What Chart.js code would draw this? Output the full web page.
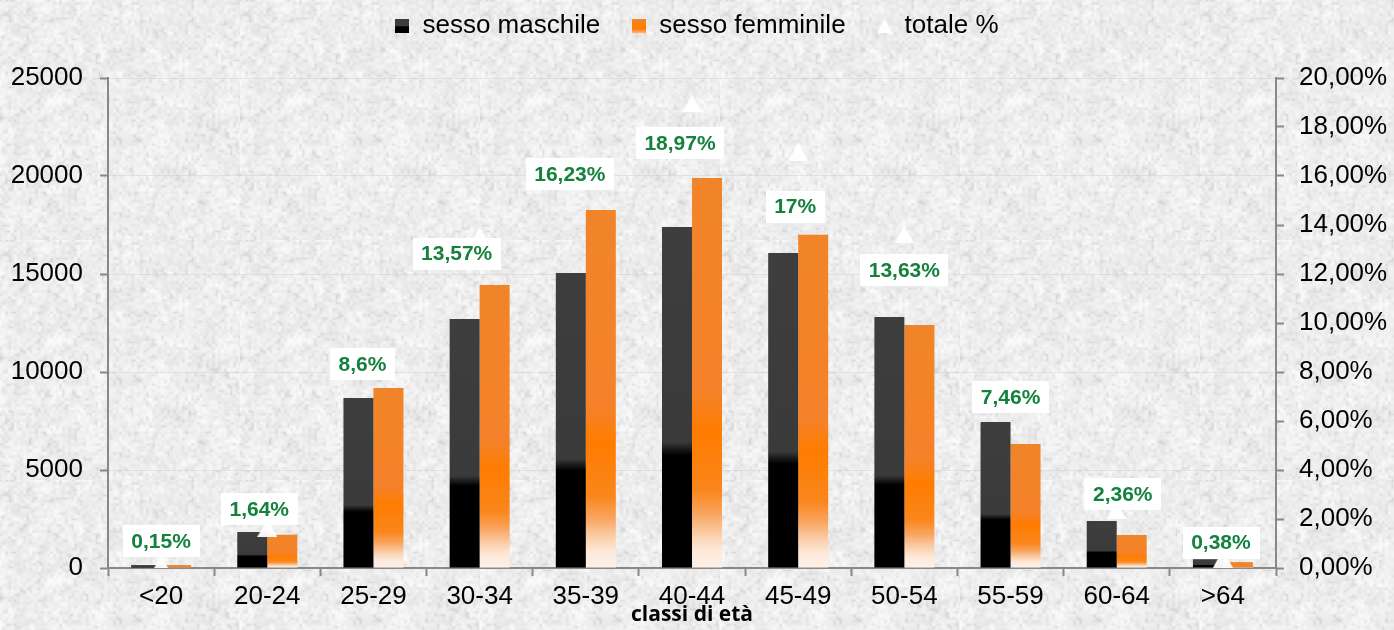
<!DOCTYPE html>
<html lang="it">
<head>
  <meta charset="utf-8" />
  <title>Classi di età</title>
  <script src="https://cdn.jsdelivr.net/npm/chart.js@4.4.0/dist/chart.umd.min.js"></script>
  <style>
    html, body { margin: 0; padding: 0; }
    body { width: 1394px; height: 630px; overflow: hidden; background: #e9e9e9; }
    #wrap { position: relative; width: 1394px; height: 630px; }
  </style>
</head>
<body>
<div id="wrap">
  <canvas id="myChart" width="1394" height="630"></canvas>
</div>

<script>
// --- data ---
const categorie = ['<20', '20-24', '25-29', '30-34', '35-39', '40-44', '45-49', '50-54', '55-59', '60-64', '>64'];
const maschile  = [150, 1840, 8670, 12700, 15050, 17400, 16070, 12800, 7450, 2400, 450];
const femminile = [150, 1700, 9180, 14440, 18260, 19900, 17000, 12400, 6330, 1680, 300];
const totale    = [0.15, 1.64, 8.6, 13.57, 16.23, 18.97, 17, 13.63, 7.46, 2.36, 0.38];

// label boxes were placed by hand in the original, nudge them the same way (px)
const labelShiftX = [0, -8, -11, -23, -16, -12, -3, 0, 0, 6, -2];
const labelShiftY = [-23, -19, 7, 18, 4, 40, 55, 36, 12, -16, -16];

const FONT = '"Liberation Sans", Arial, sans-serif';
const AXIS_GREY = '#888888';

// granite-like page background, deterministic hash noise
function hash(x, y) {
  let h = (x * 374761393 + y * 668265263) | 0;
  h = Math.imul(h ^ (h >>> 13), 1274126177);
  h = h ^ (h >>> 16);
  return (h >>> 0) / 4294967295;
}
function smooth(x, y, cell) {
  const gx = Math.floor(x / cell), gy = Math.floor(y / cell);
  const fx = x / cell - gx, fy = y / cell - gy;
  const a = hash(gx, gy), b = hash(gx + 1, gy), c = hash(gx, gy + 1), d = hash(gx + 1, gy + 1);
  return (a * (1 - fx) + b * fx) * (1 - fy) + (c * (1 - fx) + d * fx) * fy;
}
function makeTexture() {
  const size = 240;
  const cv = document.createElement('canvas');
  cv.width = size; cv.height = size;
  const c = cv.getContext('2d');
  const img = c.createImageData(size, size);
  for (let y = 0; y < size; y++) {
    for (let x = 0; x < size; x++) {
      const n1 = smooth(x, y, 3);
      const n2 = smooth(x + 500, y + 500, 10);
      let v = 237 + (n1 - 0.5) * 20 + (n2 - 0.5) * 14;
      if (n1 < 0.15) v -= 10;
      v = Math.max(200, Math.min(250, v));
      const i = (y * size + x) * 4;
      img.data[i] = v; img.data[i + 1] = v; img.data[i + 2] = v; img.data[i + 3] = 255;
    }
  }
  c.putImageData(img, 0, 0);
  document.body.style.backgroundImage = 'url(' + cv.toDataURL() + ')';
}

// gradients along each bar, from its top to the zero line
const maleStops = [[0, '#3e3e3e'], [0.63, '#3a3a3a'], [0.65, '#1c1c1c'], [0.67, '#000000'], [1, '#000000']];
const femaleStops = [[0, '#f18428'], [0.55, '#f5822a'], [0.65, '#ff7c00'], [0.8, '#fa861c'],
                     [0.86, '#f8a45e'], [0.92, '#fbd3b2'], [0.955, '#fde9da'], [1, '#fdf1e8']];

function barGradient(context, stops) {
  const chart = context.chart;
  if (!chart.chartArea || context.raw === undefined) return stops[0][1];
  const y = chart.scales.y;
  const top = y.getPixelForValue(context.raw);
  const base = y.getPixelForValue(0);
  if (base - top < 1) return stops[0][1];
  const g = chart.ctx.createLinearGradient(0, top, 0, base);
  stops.forEach(([o, col]) => g.addColorStop(o, col));
  return g;
}

// point style images
function triangleImage(w, h) {
  const cv = document.createElement('canvas');
  cv.width = w; cv.height = h;
  const c = cv.getContext('2d');
  c.fillStyle = 'rgba(255,255,255,0.95)';
  c.beginPath();
  c.moveTo(w / 2, 0);
  c.lineTo(w, h);
  c.lineTo(0, h);
  c.closePath();
  c.fill();
  return cv;
}
function swatch(stops) {
  const cv = document.createElement('canvas');
  cv.width = 14; cv.height = 14;
  const c = cv.getContext('2d');
  const g = c.createLinearGradient(0, 0, 0, 14);
  stops.forEach(([o, col]) => g.addColorStop(o, col));
  c.fillStyle = g;
  c.fillRect(0, 0, 14, 14);
  return cv;
}

const fmtPct = v => String(v).replace('.', ',') + '%';

// green value labels in white boxes
const labelBoxes = {
  id: 'labelBoxes',
  afterDatasetsDraw(chart) {
    const meta = chart.getDatasetMeta(2);
    const c = chart.ctx;
    c.save();
    c.font = 'bold 21px ' + FONT;
    c.textAlign = 'center';
    c.textBaseline = 'middle';
    meta.data.forEach((pt, i) => {
      const text = fmtPct(totale[i]);
      const w = c.measureText(text).width + 17;
      const h = 32;
      const cx = pt.x + labelShiftX[i];
      const cy = pt.y + labelShiftY[i];
      c.fillStyle = '#ffffff';
      c.fillRect(Math.round(cx - w / 2), Math.round(cy - h / 2), Math.round(w), h);
      c.fillStyle = '#14823d';
      c.fillText(text, cx, cy + 1);
    });
    c.restore();
  }
};

window.addEventListener('load', () => {
  makeTexture();

  const triPoint = triangleImage(20, 18);
  const legendItems = [
    { text: 'sesso maschile', pointStyle: swatch([[0, '#3d3d3d'], [0.5, '#3d3d3d'], [0.55, '#000'], [1, '#000']]) },
    { text: 'sesso femminile', pointStyle: swatch([[0, '#f28529'], [0.7, '#ff7c00'], [1, '#fbb77d']]) },
    { text: 'totale %', pointStyle: triangleImage(16, 14) }
  ];

  const ctx = document.getElementById('myChart').getContext('2d');
  new Chart(ctx, {
    data: {
      labels: categorie,
      datasets: [
        {
          type: 'bar',
          label: 'sesso maschile',
          data: maschile,
          yAxisID: 'y',
          order: 1,
          backgroundColor: c => barGradient(c, maleStops),
          borderWidth: 0,
          categoryPercentage: 0.565,
          barPercentage: 1
        },
        {
          type: 'bar',
          label: 'sesso femminile',
          data: femminile,
          yAxisID: 'y',
          order: 1,
          backgroundColor: c => barGradient(c, femaleStops),
          borderWidth: 0,
          categoryPercentage: 0.565,
          barPercentage: 1
        },
        {
          type: 'line',
          label: 'totale %',
          data: totale,
          yAxisID: 'y1',
          order: 0,
          showLine: false,
          pointStyle: triPoint,
          pointRadius: 10,
          borderWidth: 0
        }
      ]
    },
    options: {
      responsive: false,
      devicePixelRatio: 1,
      animation: false,
      events: [],
      layout: { padding: { top: -19, left: 0, right: 0, bottom: 0 } },
      plugins: {
        tooltip: { enabled: false },
        legend: {
          position: 'top',
          labels: {
            usePointStyle: true,
            boxWidth: 14,
            boxHeight: 14,
            padding: 32,
            color: '#000',
            font: { family: FONT, size: 26 },
            generateLabels: () => legendItems.map((it, i) => ({
              text: it.text,
              pointStyle: it.pointStyle,
              fillStyle: '#000',
              strokeStyle: 'transparent',
              lineWidth: 0,
              hidden: false,
              datasetIndex: i
            }))
          }
        },
        // invisible spacer between legend and plot area
        title: {
          display: true,
          text: ' ',
          weight: 500,
          font: { size: 10, lineHeight: 1 },
          padding: { top: 0, bottom: 19 }
        }
      },
      scales: {
        x: {
          offset: true,
          grid: {
            offset: true,
            drawOnChartArea: false,
            tickLength: 8,
            tickColor: AXIS_GREY,
            tickWidth: 2
          },
          border: { color: AXIS_GREY, width: 2 },
          ticks: { color: '#000', font: { family: FONT, size: 26 }, padding: 5, maxRotation: 0 },
          title: {
            display: true,
            text: 'classi di età',
            color: '#000',
            font: { family: '"Open Sans", sans-serif', size: 21, weight: 'bold' },
            padding: { top: 0, bottom: 2 }
          },
          afterFit: s => { s.height = 62; }
        },
        y: {
          position: 'left',
          min: 0,
          max: 25000,
          grid: {
            color: 'rgba(200,200,200,0.4)',
            lineWidth: 1,
            tickLength: 8,
            tickColor: AXIS_GREY,
            tickWidth: 2
          },
          border: { color: AXIS_GREY, width: 2 },
          ticks: {
            stepSize: 5000,
            color: '#000',
            font: { family: FONT, size: 26 },
            padding: 17,
            callback: v => String(v)
          },
          afterFit: s => { s.width = 108; }
        },
        y1: {
          position: 'right',
          min: 0,
          max: 20,
          grid: {
            drawOnChartArea: false,
            tickLength: 8,
            tickColor: AXIS_GREY,
            tickWidth: 2
          },
          border: { color: AXIS_GREY, width: 2 },
          ticks: {
            stepSize: 2,
            color: '#000',
            font: { family: FONT, size: 26 },
            padding: 15,
            callback: v => v.toFixed(2).replace('.', ',') + '%'
          },
          afterFit: s => { s.width = 118; }
        }
      }
    },
    plugins: [labelBoxes]
  });
});
</script>
</body>
</html>
